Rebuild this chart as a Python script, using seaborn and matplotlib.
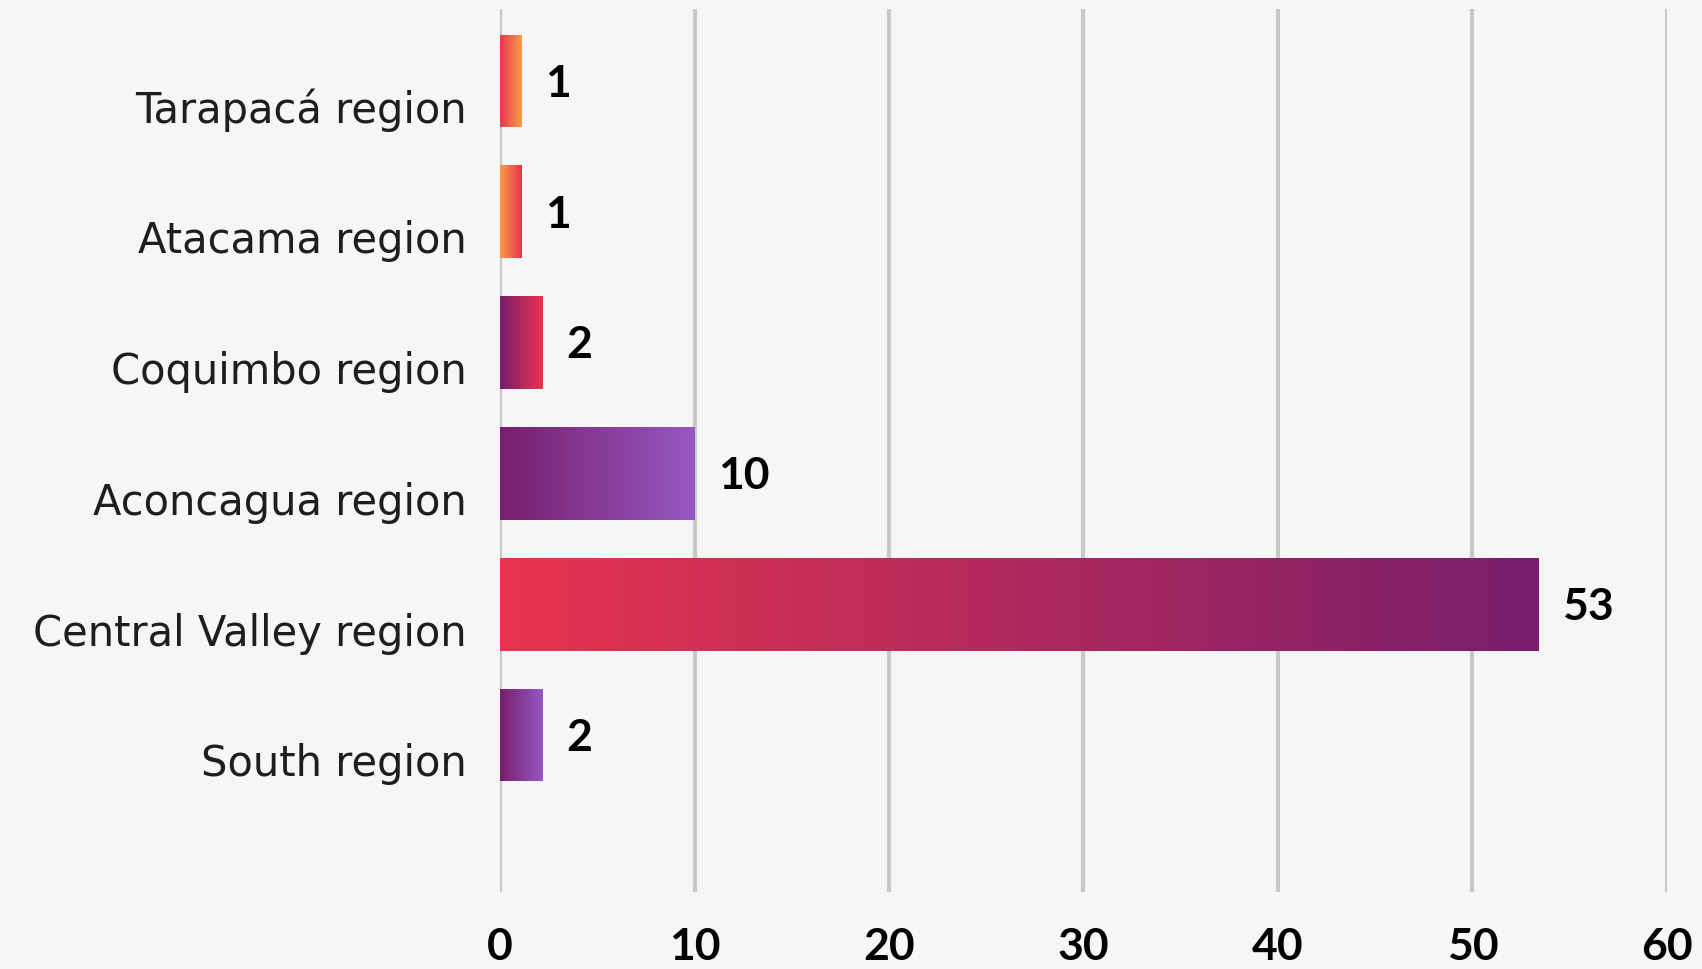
import numpy as np
import matplotlib
matplotlib.use('Agg')
import matplotlib.pyplot as plt
from matplotlib.colors import LinearSegmentedColormap
from matplotlib.transforms import ScaledTranslation
import seaborn as sns

# data (bar lengths, labels are rounded)
regions = ['Tarapacá region', 'Atacama region', 'Coquimbo region',
           'Aconcagua region', 'Central Valley region', 'South region']
values = [1.1, 1.1, 2.2, 10.0, 53.4, 2.2]
x_ticks = [0, 10, 20, 30, 40, 50, 60]

# gradient (left colour, right colour) per bar
RED = '#e8344f'
ORANGE = '#f99d45'
DARK_PURPLE = '#781e6c'
LIGHT_PURPLE = '#9658c3'
gradients = [(RED, ORANGE), (ORANGE, RED), (DARK_PURPLE, RED),
             (DARK_PURPLE, LIGHT_PURPLE), (RED, DARK_PURPLE), (DARK_PURPLE, LIGHT_PURPLE)]

BG = '#f6f6f6'

sns.set_style('white')
plt.rcParams['font.family'] = ['DejaVu Sans']

fig = plt.figure(figsize=(17.02, 9.69), dpi=100, facecolor=BG)
ax = fig.add_axes([0.2938, 0.0795, 0.6856, 0.9112])
ax.set_facecolor(BG)

sns.barplot(x=values, y=regions, orient='h', width=0.71, color=RED, ax=ax, zorder=2)

# replace flat fills by horizontal gradients
grad = np.linspace(0, 1, 256).reshape(1, -1)
for patch, (c0, c1), v in zip(ax.patches, gradients, values):
    x0, y0 = patch.get_x(), patch.get_y()
    w, h = patch.get_width(), patch.get_height()
    cmap = LinearSegmentedColormap.from_list('g', [c0, c1])
    img = ax.imshow(grad, extent=[x0, x0 + w, y0 + h, y0], aspect='auto',
                    cmap=cmap, zorder=3, interpolation='bilinear')
    img.set_clip_path(patch)
    patch.set_facecolor('none')
    patch.set_edgecolor('none')
    ax.annotate(f'{v:.0f}', xy=(x0 + w, y0 + h / 2), xytext=(17, -2),
                textcoords='offset points', va='center', ha='left',
                fontsize=32, fontweight='bold', family=['Lato', 'DejaVu Sans'],
                color='black', zorder=4)

ax.set_xlim(0, 60)
ax.set_ylim(6.2, -0.55)
ax.set_xticks(x_ticks)
ax.set_xticklabels([str(t) for t in x_ticks], fontsize=32, fontweight='bold',
                   family=['Lato', 'DejaVu Sans'])
ax.tick_params(axis='x', length=0, pad=25, colors='black')
ax.tick_params(axis='y', length=0, pad=24, labelsize=30, labelcolor='#1e1e1e')

# category labels sit a bit below the bar centres in the original
shift = ScaledTranslation(0, -0.25, fig.dpi_scale_trans)
for lbl in ax.get_yticklabels():
    lbl.set_transform(lbl.get_transform() + shift)

ax.grid(axis='x', color='#c8c8c8', linewidth=3, zorder=0)
ax.grid(axis='y', visible=False)
ax.set_axisbelow(True)
ax.set_xlabel('')
ax.set_ylabel('')
sns.despine(ax=ax, left=True, bottom=True)

fig.savefig('out.png', dpi=100, facecolor=BG)
